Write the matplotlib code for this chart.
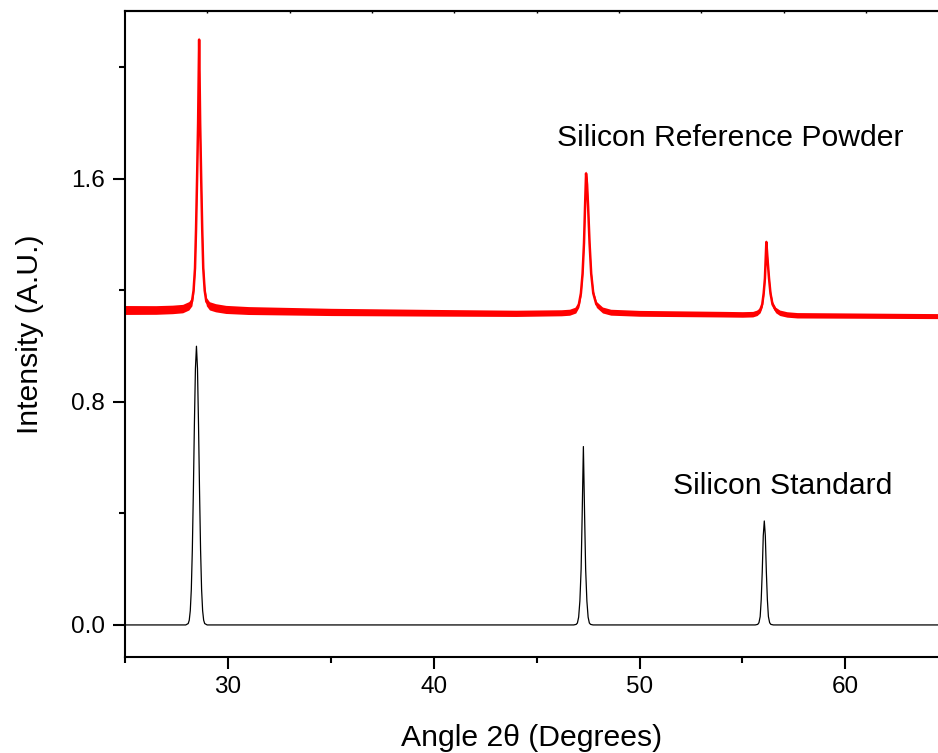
import numpy as np
import matplotlib.pyplot as plt

plt.rcParams['font.family'] = ['Liberation Sans', 'DejaVu Sans']

# simulated standard pattern (baseline at 0)
std_x = [25.0, 27.95, 28.07, 28.12, 28.17, 28.22, 28.27, 28.32, 28.37, 28.42, 28.47,
         28.52, 28.57, 28.62, 28.67, 28.72, 28.77, 28.82, 28.87, 28.99,
         46.8, 46.92, 46.98, 47.04, 47.1, 47.16, 47.21, 47.27,
         47.33, 47.38, 47.44, 47.5, 47.56, 47.62, 47.74,
         55.62, 55.74, 55.8, 55.86, 55.91, 55.96, 56.01, 56.06,
         56.11, 56.16, 56.21, 56.26, 56.32, 56.38, 56.5, 64.5]
std_y = [0.0, 0.0, 0.005, 0.017, 0.051, 0.127, 0.27, 0.48, 0.72, 0.92, 1.0,
         0.92, 0.72, 0.48, 0.27, 0.127, 0.051, 0.017, 0.005, 0.0,
         0.0, 0.002, 0.007, 0.028, 0.086, 0.2, 0.39, 0.64,
         0.39, 0.2, 0.086, 0.028, 0.007, 0.002, 0.0,
         0.0, 0.002, 0.008, 0.03, 0.09, 0.19, 0.32, 0.373,
         0.32, 0.19, 0.09, 0.03, 0.008, 0.002, 0.0, 0.0]

# measured powder pattern (offset)
pwd_x = [25.0, 26.5, 27.3, 27.8, 28.1, 28.25, 28.33, 28.4, 28.45, 28.5, 28.55, 28.6,
         28.65, 28.7, 28.75, 28.8, 28.87, 28.95, 29.1, 29.4, 29.9, 31.0,
         35.0, 40.0, 44.0, 46.2, 46.6, 46.9, 47.05, 47.15, 47.23, 47.3, 47.35, 47.4,
         47.45, 47.5, 47.57, 47.65, 47.75, 47.9, 48.2, 48.6, 50.0,
         54.0, 55.0, 55.5, 55.71, 55.86, 55.96, 56.03, 56.09, 56.16,
         56.23, 56.29, 56.36, 56.46, 56.61, 56.81, 57.16, 57.66, 60.0, 64.5]
pwd_y = [1.13, 1.13, 1.132, 1.135, 1.145, 1.16, 1.2, 1.28, 1.42, 1.6, 1.8, 2.10,
         1.8, 1.6, 1.42, 1.28, 1.2, 1.16, 1.145, 1.138, 1.132, 1.128,
         1.123, 1.12, 1.118, 1.12, 1.122, 1.13, 1.15, 1.19, 1.26, 1.37, 1.5, 1.62,
         1.58, 1.5, 1.37, 1.26, 1.19, 1.15, 1.13, 1.122, 1.118,
         1.115, 1.114, 1.115, 1.12, 1.13, 1.15, 1.19, 1.243, 1.374,
         1.3, 1.243, 1.19, 1.15, 1.13, 1.12, 1.114, 1.111, 1.11, 1.108]
# half-width of the counting noise on the powder trace
noise_x = [25.0, 35.0, 45.0, 55.0, 64.5]
noise_amp = [0.016, 0.013, 0.011, 0.010, 0.009]

fig = plt.figure(figsize=(9.38, 7.53), dpi=100)
ax = fig.add_axes([0.1333, 0.1275, 0.8667, 0.858])

spread = np.interp(pwd_x, noise_x, noise_amp)
ax.fill_between(pwd_x, np.array(pwd_y) - spread, np.array(pwd_y) + spread,
                color='red', linewidth=0)
ax.plot(pwd_x, pwd_y, color='red', lw=1.8)
ax.plot(std_x, std_y, color='black', lw=0.9)

ax.text(46.0, 1.718, 'Silicon Reference Powder', fontsize=21.7, va='baseline')
ax.text(51.64, 0.47, 'Silicon Standard', fontsize=21.7, va='baseline')

ax.set_xlim(25, 64.5)
ax.set_ylim(-0.115, 2.203)
ax.set_xticks([30, 40, 50, 60])
ax.set_xticks([25, 35, 45, 55], minor=True)
ax.set_yticks([0.0, 0.8, 1.6])
ax.set_yticks([0.4, 1.2, 2.0], minor=True)
ax.set_yticklabels(['0.0', '0.8', '1.6'])

ax.spines['right'].set_visible(False)
for s in ['left', 'bottom', 'top']:
    ax.spines[s].set_linewidth(1.5)
ax.tick_params(which='major', direction='out', length=8.6, width=1.5, labelsize=17.5, pad=5)
ax.tick_params(axis='y', which='major', pad=6)
ax.tick_params(which='minor', direction='out', length=4.3, width=1.5)

top = ax.secondary_xaxis('top')
top.set_xticks([29, 33, 37, 41, 45, 49, 53, 57, 61])
top.set_xticklabels([])
top.tick_params(direction='in', length=1.5, width=1.0)
top.spines['top'].set_linewidth(1.5)

ax.set_xlabel('Angle 2\u03b8 (Degrees)', fontsize=21.7, labelpad=19)
ax.set_ylabel('Intensity (A.U.)', fontsize=21.7, labelpad=19)

fig.savefig('out.png', dpi=100)
